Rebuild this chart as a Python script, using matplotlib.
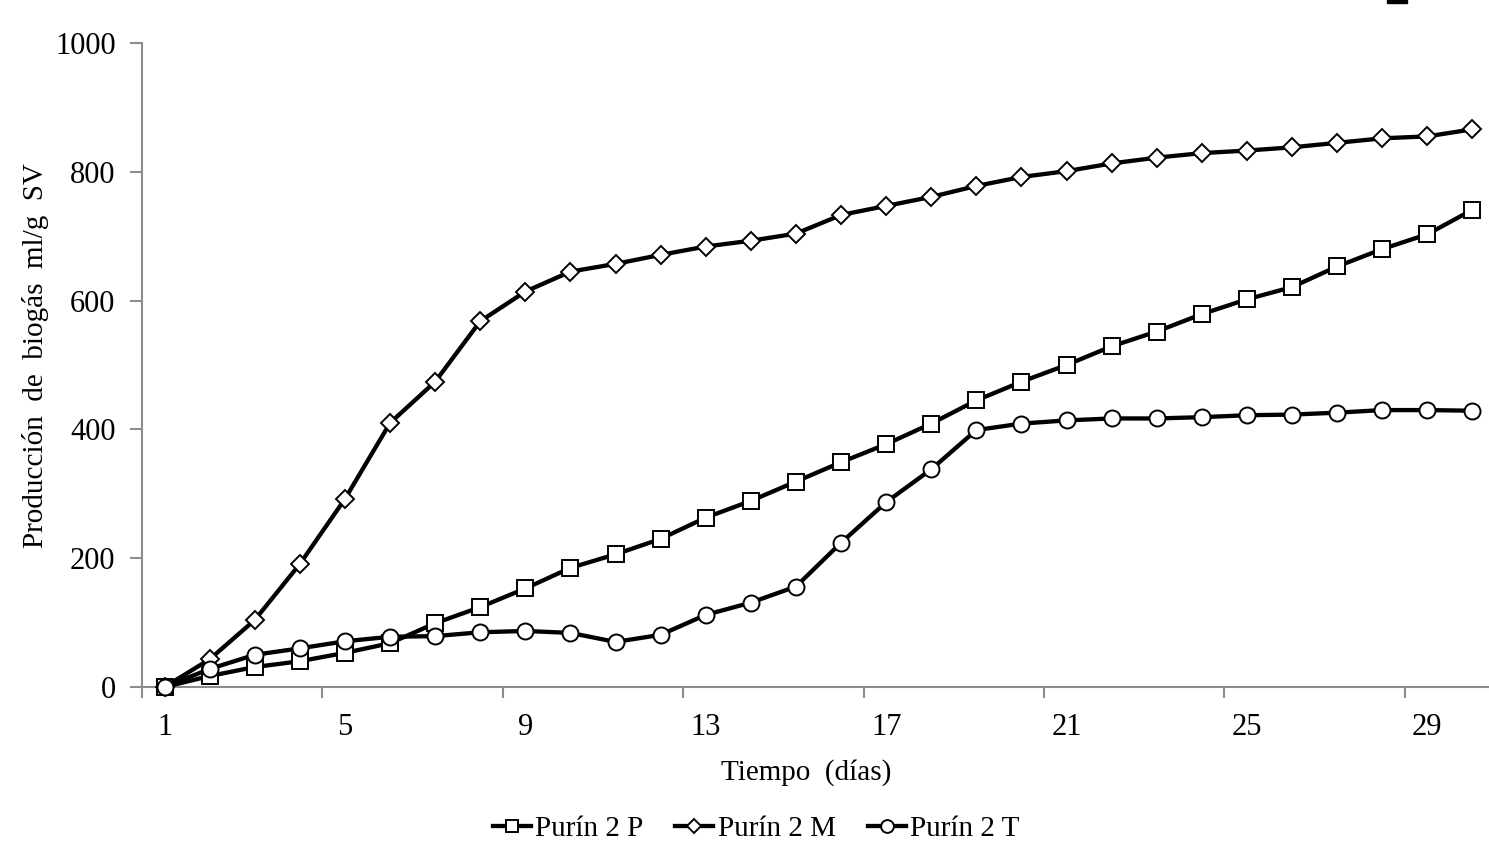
"""Biogas production curves for the three Purín 2 digesters."""

import matplotlib

matplotlib.use("Agg")
import matplotlib.pyplot as plt
from matplotlib.patches import Rectangle
from matplotlib.ticker import FixedLocator, NullFormatter

days = list(range(1, 31))
tick_days = [1, 5, 9, 13, 17, 21, 25, 29]

purin_p = [0, 17, 31, 40, 53, 68, 99, 124, 153, 185,
           206, 230, 263, 289, 319, 349, 377, 409, 445, 474,
           500, 529, 552, 579, 602, 621, 653, 680, 703, 741]
purin_m = [0, 43, 104, 191, 292, 410, 474, 568, 614, 645,
           657, 671, 684, 693, 704, 733, 747, 761, 778, 792,
           801, 813, 822, 829, 833, 838, 845, 852, 855, 866]
purin_t = [0, 28, 50, 60, 71, 78, 79, 85, 87, 84,
           70, 81, 112, 131, 156, 224, 287, 338, 399, 409,
           414, 417, 417, 419, 422, 423, 426, 430, 430, 429]

series = [
    ("Purín 2 P", purin_p, "s", 11),
    ("Purín 2 M", purin_m, "D", 9.5),
    ("Purín 2 T", purin_t, "o", 11.5),
]

plt.rcParams["font.family"] = ["Liberation Serif", "DejaVu Serif"]

W, H = 1489, 847
fig = plt.figure(figsize=(W / 100, H / 100), dpi=100)
ax = fig.add_axes([142 / W, 1 - 687 / H, (W - 142) / W, (687 - 43) / H])

for label, values, marker, size in series:
    ax.plot(days, values, color="black", linewidth=3.1, marker=marker,
            markersize=size, markerfacecolor="white",
            markeredgecolor="black", markeredgewidth=1.4, label=label,
            clip_on=False, zorder=3)

ax.set_xlim(0.5, 0.5 + (W - 142) / 45.1)
ax.set_ylim(0, 1000)
ax.set_yticks([0, 200, 400, 600, 800, 1000])

# category axis: tick marks between categories, labels on categories
ax.xaxis.set_major_locator(FixedLocator([d - 0.5 for d in tick_days]))
ax.xaxis.set_major_formatter(NullFormatter())
ax.xaxis.set_minor_locator(FixedLocator(tick_days))
ax.set_xticklabels([str(d) for d in tick_days], minor=True)

grey = "#8c8c8c"
for side in ("top", "right"):
    ax.spines[side].set_visible(False)
for side in ("left", "bottom"):
    ax.spines[side].set_color(grey)
    ax.spines[side].set_linewidth(1.5)

ax.tick_params(axis="x", which="major", length=8, width=1.5, color=grey)
ax.tick_params(axis="x", which="minor", length=0, pad=19, labelsize=22)
ax.tick_params(axis="y", length=9, width=1.5, color=grey, pad=10,
               labelsize=22)

fig.text(806 / W, 1 - 773 / H, "Tiempo  (días)", ha="center", va="center",
         fontsize=21)
fig.text(36 / W, 1 - 356 / H, "Producción  de  biogás  ml/g  SV",
         ha="center", va="center", rotation=90, fontsize=21)

fig.legend(loc="center", bbox_to_anchor=(756 / W, 1 - 829 / H), ncol=3,
           frameon=False, fontsize=21, handlelength=1.3, handletextpad=0.15,
           columnspacing=1.1, markerscale=0.8)

fig.patches.append(Rectangle((1387 / W, 1 - 3 / H), 20 / W, 3 / H,
                             transform=fig.transFigure, color="black"))

fig.savefig("out.png", dpi=100)
